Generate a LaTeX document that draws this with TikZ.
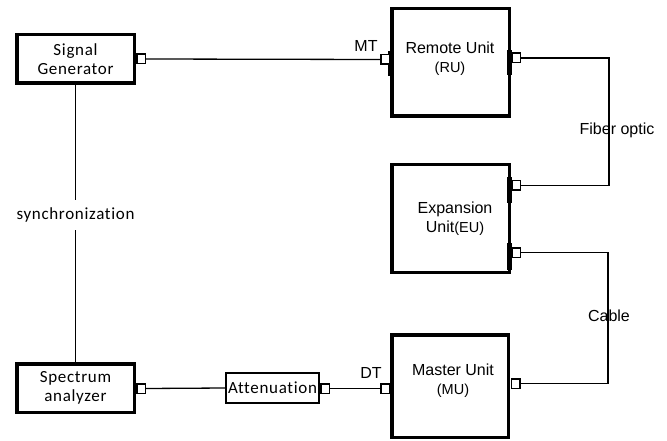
\documentclass[tikz,border=0pt]{standalone}
\usepackage{fontspec}
\setmainfont{Liberation Sans}
\newfontfamily\calfont[LetterSpace=4,Ligatures=NoCommon]{Carlito}
\begin{document}
\begin{tikzpicture}[x=1pt,y=-1pt,
  box/.style={draw, line width=3.5pt, minimum width=117.5pt, minimum height=48.5pt, inner sep=0pt, font=\calfont\fontsize{17}{18.5}\selectfont, align=center},
  attbox/.style={draw, line width=2pt, minimum width=93pt, minimum height=30pt, inner sep=0pt, font=\calfont\fontsize{17}{18.5}\selectfont},
  unitbox/.style={draw, line width=3.5pt, minimum width=117.5pt, minimum height=107.5pt, inner sep=0pt},
  portbox/.style={draw, fill=white, line width=1.5pt, minimum width=8.5pt, minimum height=9.5pt, inner sep=0pt},
  barbox/.style={fill=black, minimum width=5.5pt, minimum height=25pt, inner sep=0pt},
  wire/.style={line width=1.3pt},
  lbl/.style={font=\fontsize{16}{19}\selectfont, inner sep=0pt},
  utext/.style={font=\fontsize{16}{19}\selectfont, align=center, inner sep=0pt},
  synclbl/.style={font=\calfont\fontsize{17}{18.5}\selectfont, inner sep=0pt, minimum height=30pt}
  ]
\useasboundingbox (0,0) rectangle (667,441);

% main boxes
\node[box] (sg) at (75.5,59) {Signal\\Generator};
\node[box] (sa) at (75.5,388) {Spectrum\\analyzer};
\node[attbox] (att) at (272.5,388) {Attenuation};
\node[unitbox] (ru) at (450.5,62.5) {};
\node[unitbox] (eu) at (450.5,218.5) {};
\node[unitbox, minimum width=116.5pt, minimum height=102.5pt] (mu) at (450,386) {};

% unit texts
\node[utext] (rut) at (450,58.5) {Remote Unit\\{\fontsize{14.5}{19}\selectfont (RU)}};
\node[utext] (eut) at (455,219) {Expansion\\Unit{\fontsize{14.5}{19}\selectfont (EU)}};
\node[utext] (mut) at (453,381) {Master Unit\\{\fontsize{14.5}{19}\selectfont (MU)}};

% bars
\node[barbox] (bru1) at (391.2,64) {};
\node[barbox] (bru2) at (509.5,62.5) {};
\node[barbox] (beu1) at (509.5,190) {};
\node[barbox, minimum height=27pt] (beu2) at (509.5,256.5) {};

% ports
\node[portbox] (psg) at (141,59) {};
\node[portbox] (psa) at (141,388.5) {};
\node[portbox] (patt) at (325,388.5) {};
\node[portbox] (prul) at (385,59.5) {};
\node[portbox] (prur) at (516,58) {};
\node[portbox] (peu1) at (516,185.5) {};
\node[portbox] (peu2) at (516,252.5) {};
\node[portbox] (pmul) at (385,388.5) {};
\node[portbox] (pmur) at (515.5,383.5) {};

% labels
\node[lbl] (mt) at (366,46) {MT};
\node[lbl] (dt) at (371,373) {DT};
\node[synclbl] (sync) at (75.5,215) {synchronization};
\coordinate (fx) at (609,130);
\coordinate (cx) at (608,316);

% connectors
\draw[wire] (psg.east) -- (prul.west);
\draw[wire] (prur.east) -| (fx) |- (peu1.east);
\draw[wire] (peu2.east) -| (cx) |- (pmur.east);
\draw[wire] (sg.south) -- (sync.north);
\draw[wire] (sync.south) -- (sa.north);
\draw[wire] (psa.east) -- (att.west);
\draw[wire] (patt.east) -- (pmul.west);

\node[lbl] (fo) at (617,130) {Fiber optic};
\node[lbl] (cab) at (609,316) {Cable};
\end{tikzpicture}
\end{document}
